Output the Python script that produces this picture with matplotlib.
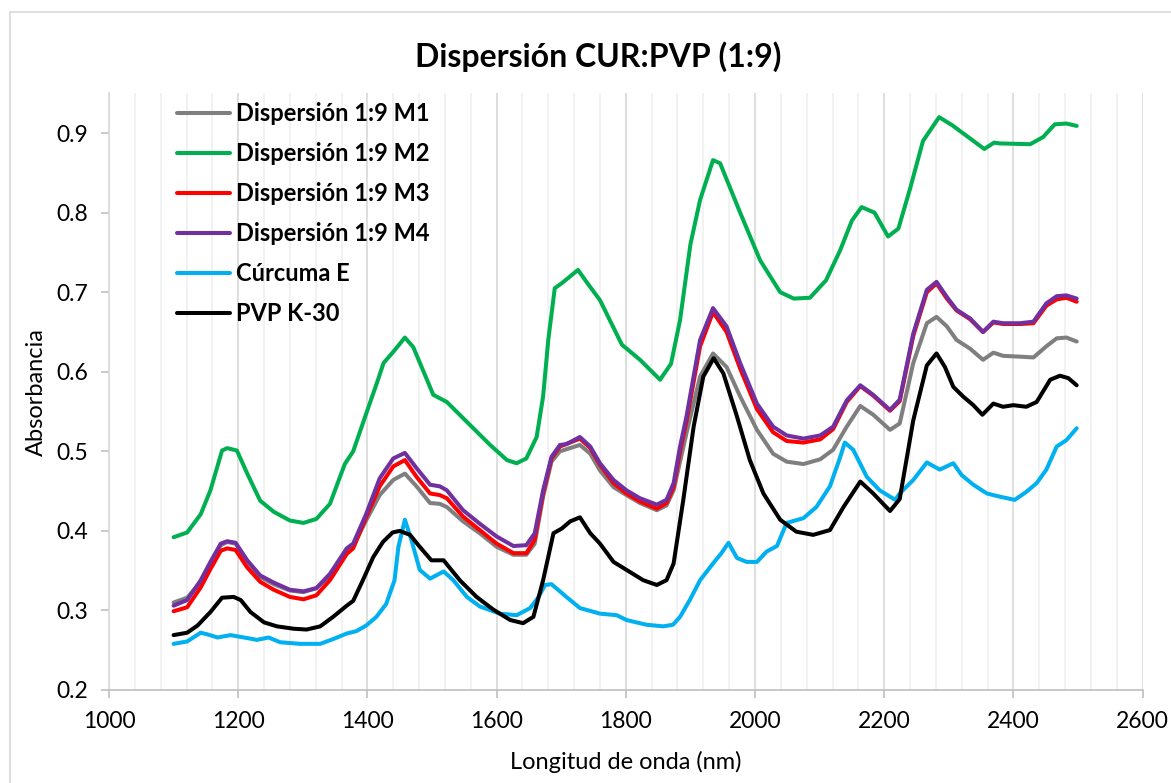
import matplotlib
matplotlib.use("Agg")
import matplotlib.pyplot as plt
from matplotlib.patches import Rectangle
from matplotlib.ticker import MultipleLocator

plt.rcParams['font.family'] = ['Lato', 'DejaVu Sans']

# --- data (wavelength nm, absorbance) ---
wl_m1 = [1100, 1121, 1142, 1157, 1173, 1183, 1196, 1214, 1234, 1255, 1280, 1301, 1321, 1342, 1368, 1378,
         1398, 1419, 1440, 1458, 1476, 1497, 1512, 1523, 1548, 1574, 1600, 1626, 1646, 1659, 1672, 1685,
         1698, 1729, 1745, 1760, 1781, 1801, 1822, 1848, 1863, 1874, 1894, 1915, 1935, 1956, 1977, 2003,
         2028, 2049, 2075, 2101, 2121, 2142, 2163, 2183, 2209, 2224, 2245, 2266, 2281, 2297, 2312, 2333,
         2353, 2369, 2384, 2410, 2431, 2451, 2467, 2482, 2498]
abs_m1 = [0.310, 0.316, 0.336, 0.358, 0.382, 0.386, 0.384, 0.362, 0.342, 0.333, 0.325, 0.323, 0.328, 0.343, 0.375, 0.381,
          0.413, 0.445, 0.464, 0.472, 0.456, 0.435, 0.434, 0.430, 0.412, 0.397, 0.380, 0.370, 0.370, 0.384, 0.443, 0.487,
          0.500, 0.508, 0.497, 0.476, 0.455, 0.445, 0.435, 0.426, 0.432, 0.451, 0.523, 0.594, 0.623, 0.606, 0.569, 0.527,
          0.497, 0.487, 0.484, 0.490, 0.502, 0.531, 0.557, 0.546, 0.527, 0.535, 0.611, 0.661, 0.669, 0.657, 0.640, 0.629,
          0.615, 0.624, 0.620, 0.619, 0.618, 0.632, 0.642, 0.643, 0.638]

wl_m2 = [1100, 1121, 1142, 1157, 1175, 1183, 1198, 1214, 1234, 1255, 1280, 1301, 1321, 1342, 1365, 1378,
         1398, 1416, 1425, 1440, 1458, 1471, 1502, 1523, 1554, 1590, 1616, 1631, 1646, 1662, 1672, 1680,
         1690, 1702, 1726, 1740, 1760, 1794, 1822, 1853, 1870, 1884, 1900, 1915, 1935, 1946, 1977, 2008,
         2039, 2060, 2085, 2110, 2132, 2150, 2165, 2185, 2206, 2222, 2240, 2260, 2285, 2305, 2330, 2355,
         2370, 2379, 2426, 2446, 2464, 2482, 2498]
abs_m2 = [0.392, 0.398, 0.421, 0.451, 0.501, 0.504, 0.501, 0.472, 0.438, 0.424, 0.413, 0.410, 0.415, 0.434, 0.484, 0.500,
          0.547, 0.589, 0.611, 0.625, 0.643, 0.631, 0.571, 0.562, 0.537, 0.508, 0.489, 0.485, 0.491, 0.518, 0.569, 0.640,
          0.705, 0.712, 0.728, 0.712, 0.690, 0.634, 0.615, 0.590, 0.610, 0.665, 0.760, 0.816, 0.866, 0.862, 0.800, 0.740,
          0.700, 0.692, 0.693, 0.715, 0.753, 0.790, 0.807, 0.800, 0.770, 0.780, 0.830, 0.890, 0.920, 0.910, 0.895, 0.880,
          0.888, 0.887, 0.886, 0.895, 0.911, 0.912, 0.909]

wl_m3 = [1100, 1121, 1142, 1157, 1173, 1183, 1196, 1214, 1234, 1255, 1280, 1301, 1321, 1342, 1368, 1378,
         1398, 1419, 1440, 1458, 1476, 1497, 1512, 1523, 1548, 1574, 1600, 1626, 1646, 1659, 1672, 1685,
         1698, 1729, 1745, 1760, 1781, 1801, 1822, 1848, 1863, 1874, 1884, 1894, 1915, 1935, 1956, 1977,
         2003, 2028, 2049, 2075, 2101, 2121, 2142, 2163, 2183, 2209, 2224, 2245, 2266, 2281, 2297, 2312,
         2333, 2353, 2369, 2384, 2410, 2431, 2451, 2467, 2482, 2498]
abs_m3 = [0.299, 0.304, 0.329, 0.352, 0.375, 0.378, 0.376, 0.354, 0.336, 0.326, 0.317, 0.314, 0.319, 0.338, 0.371, 0.378,
          0.417, 0.456, 0.481, 0.489, 0.468, 0.447, 0.445, 0.441, 0.418, 0.401, 0.384, 0.372, 0.372, 0.389, 0.447, 0.491,
          0.506, 0.516, 0.504, 0.483, 0.460, 0.447, 0.437, 0.428, 0.435, 0.455, 0.500, 0.538, 0.632, 0.675, 0.650, 0.604,
          0.553, 0.524, 0.513, 0.511, 0.515, 0.528, 0.562, 0.582, 0.570, 0.551, 0.563, 0.645, 0.700, 0.711, 0.692, 0.677,
          0.666, 0.650, 0.662, 0.660, 0.660, 0.661, 0.683, 0.691, 0.693, 0.688]

wl_m4 = [1100, 1121, 1142, 1157, 1173, 1183, 1196, 1214, 1234, 1255, 1280, 1301, 1321, 1342, 1368, 1378,
         1398, 1419, 1440, 1458, 1476, 1497, 1512, 1523, 1548, 1574, 1600, 1626, 1646, 1659, 1672, 1685,
         1698, 1708, 1729, 1745, 1760, 1781, 1801, 1822, 1848, 1863, 1874, 1884, 1894, 1915, 1935, 1956,
         1977, 2003, 2028, 2049, 2075, 2101, 2121, 2142, 2163, 2183, 2209, 2224, 2245, 2266, 2281, 2297,
         2312, 2333, 2353, 2369, 2384, 2410, 2431, 2451, 2467, 2482, 2498]
abs_m4 = [0.306, 0.313, 0.338, 0.361, 0.384, 0.387, 0.385, 0.363, 0.344, 0.335, 0.326, 0.324, 0.328, 0.346, 0.378, 0.384,
          0.421, 0.466, 0.491, 0.498, 0.479, 0.458, 0.456, 0.451, 0.426, 0.409, 0.393, 0.381, 0.382, 0.397, 0.451, 0.493,
          0.508, 0.509, 0.518, 0.506, 0.485, 0.464, 0.451, 0.441, 0.433, 0.439, 0.460, 0.506, 0.544, 0.640, 0.680, 0.657,
          0.611, 0.560, 0.531, 0.520, 0.516, 0.520, 0.531, 0.564, 0.583, 0.571, 0.552, 0.565, 0.648, 0.703, 0.713, 0.694,
          0.678, 0.667, 0.650, 0.663, 0.661, 0.661, 0.663, 0.686, 0.695, 0.696, 0.692]

wl_cur = [1100, 1121, 1142, 1152, 1168, 1188, 1209, 1229, 1247, 1265, 1296, 1327, 1347, 1368, 1383, 1398,
          1414, 1429, 1442, 1448, 1458, 1468, 1481, 1497, 1518, 1533, 1554, 1574, 1605, 1631, 1652, 1665,
          1675, 1685, 1708, 1729, 1760, 1786, 1801, 1832, 1858, 1873, 1884, 1899, 1915, 1935, 1948, 1959,
          1972, 1987, 2003, 2018, 2034, 2049, 2075, 2095, 2116, 2132, 2139, 2152, 2173, 2193, 2217, 2224,
          2245, 2266, 2286, 2307, 2320, 2338, 2359, 2379, 2402, 2420, 2436, 2451, 2467, 2482, 2498]
abs_cur = [0.258, 0.261, 0.272, 0.270, 0.266, 0.269, 0.266, 0.263, 0.266, 0.260, 0.258, 0.258, 0.264, 0.271, 0.274, 0.281,
           0.292, 0.308, 0.338, 0.380, 0.414, 0.389, 0.351, 0.340, 0.349, 0.338, 0.317, 0.305, 0.296, 0.294, 0.303, 0.317,
           0.332, 0.333, 0.317, 0.303, 0.296, 0.294, 0.288, 0.282, 0.280, 0.282, 0.292, 0.313, 0.338, 0.359, 0.372, 0.385,
           0.366, 0.361, 0.361, 0.374, 0.381, 0.410, 0.416, 0.430, 0.456, 0.493, 0.511, 0.502, 0.468, 0.451, 0.439, 0.447,
           0.464, 0.486, 0.477, 0.485, 0.470, 0.458, 0.447, 0.443, 0.439, 0.449, 0.460, 0.477, 0.506, 0.514, 0.529]

wl_pvp = [1100, 1121, 1137, 1157, 1175, 1193, 1204, 1219, 1240, 1260, 1286, 1306, 1327, 1347, 1368, 1378,
          1393, 1409, 1424, 1439, 1450, 1466, 1481, 1499, 1518, 1543, 1569, 1595, 1621, 1641, 1657, 1672,
          1688, 1701, 1714, 1729, 1745, 1760, 1781, 1801, 1827, 1848, 1863, 1874, 1889, 1905, 1920, 1936,
          1951, 1972, 1992, 2013, 2039, 2064, 2090, 2116, 2137, 2163, 2183, 2209, 2224, 2245, 2266, 2281,
          2294, 2307, 2322, 2338, 2352, 2369, 2384, 2400, 2420, 2436, 2457, 2472, 2485, 2498]
abs_pvp = [0.269, 0.272, 0.281, 0.298, 0.316, 0.317, 0.313, 0.298, 0.285, 0.280, 0.277, 0.276, 0.280, 0.292, 0.306, 0.312,
           0.338, 0.367, 0.386, 0.398, 0.400, 0.395, 0.380, 0.363, 0.363, 0.338, 0.317, 0.301, 0.288, 0.284, 0.292, 0.338,
           0.397, 0.403, 0.412, 0.417, 0.397, 0.384, 0.361, 0.351, 0.338, 0.332, 0.338, 0.359, 0.439, 0.531, 0.594, 0.617,
           0.598, 0.544, 0.489, 0.447, 0.414, 0.399, 0.395, 0.401, 0.430, 0.462, 0.447, 0.425, 0.440, 0.539, 0.608, 0.623,
           0.606, 0.581, 0.569, 0.558, 0.546, 0.560, 0.556, 0.558, 0.556, 0.562, 0.590, 0.595, 0.592, 0.583]

series = [
    ('Dispersión 1:9 M1', wl_m1, abs_m1, '#7F7F7F'),
    ('Dispersión 1:9 M2', wl_m2, abs_m2, '#00B050'),
    ('Dispersión 1:9 M3', wl_m3, abs_m3, '#FF0000'),
    ('Dispersión 1:9 M4', wl_m4, abs_m4, '#7030A0'),
    ('Cúrcuma E', wl_cur, abs_cur, '#00B0F0'),
    ('PVP K-30', wl_pvp, abs_pvp, '#000000'),
]

W, H = 1171, 783
fig = plt.figure(figsize=(W / 100, H / 100), dpi=100)
fig.patch.set_facecolor('white')

# chart frame (Excel chart area border)
fig.add_artist(Rectangle((10 / W, -0.05), 1.2, (H - 12) / H + 0.05, transform=fig.transFigure,
                         fill=False, edgecolor='#D9D9D9', linewidth=1.2))

ax = fig.add_axes([109 / W, (H - 690) / H, (1142.6 - 109) / W, (690 - 93.3) / H])

for label, x, y, c in series:
    ax.plot(x, y, color=c, linewidth=2.9, label=label, solid_joinstyle='round', solid_capstyle='round')

ax.set_xlim(1000, 2600)
ax.set_ylim(0.2, 0.95)
ax.xaxis.set_major_locator(MultipleLocator(200))
ax.xaxis.set_minor_locator(MultipleLocator(40))
ax.set_yticks([0.2, 0.3, 0.4, 0.5, 0.6, 0.7, 0.8, 0.9])
ax.set_yticklabels(['0.2', '0.3', '0.4', '0.5', '0.6', '0.7', '0.8', '0.9'])

ax.grid(which='major', axis='x', color='#D9D9D9', linewidth=1.2)
ax.grid(which='minor', axis='x', color='#F0F0F0', linewidth=1.2)
ax.set_axisbelow(True)

for side in ['top', 'right']:
    ax.spines[side].set_visible(False)
ax.spines['left'].set_color('#D9D9D9')
ax.spines['bottom'].set_color('#BFBFBF')
ax.spines['left'].set_linewidth(1.2)
ax.spines['bottom'].set_linewidth(1.2)

ax.tick_params(axis='both', which='major', labelsize=16.5, colors='#BFBFBF', labelcolor='black',
               length=6, width=1.2)
ax.tick_params(axis='x', which='minor', length=0)
ax.tick_params(axis='x', pad=9)
ax.tick_params(axis='y', pad=9)

ax.set_xlabel('Longitud de onda (nm)', fontsize=17, labelpad=13.5)
ax.set_ylabel('Absorbancia', fontsize=17, labelpad=7)

fig.text(0.511, (H - 57) / H, 'Dispersión CUR:PVP (1:9)', ha='center', va='center',
         fontsize=23, fontweight='bold')

leg = ax.legend(loc='upper left', bbox_to_anchor=(177 / W, 1 - 102 / H), bbox_transform=fig.transFigure,
                frameon=False, prop={'weight': 'bold', 'size': 17}, handlelength=2.25,
                handletextpad=0.25, labelspacing=0.72, borderpad=0, borderaxespad=0)

fig.savefig('out.png', dpi=100, facecolor='white')
